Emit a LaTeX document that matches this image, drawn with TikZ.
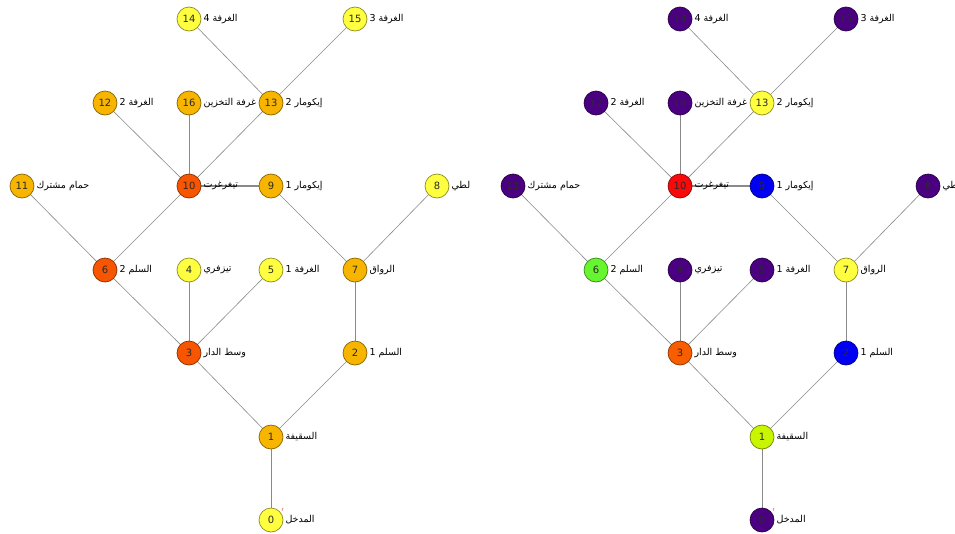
\documentclass[tikz,border=0pt]{standalone}
\usepackage{fontspec}
\setmainfont{DejaVu Sans}
\newfontfamily\arabicfont[Script=Arabic]{DejaVu Sans}
\TeXXeTstate=1
\usetikzlibrary{positioning,backgrounds}
\definecolor{ink}     {HTML}{2A2A2A}
\definecolor{linkgray}{HTML}{8A8A8A}
\definecolor{rootred} {HTML}{D03030}
\definecolor{cyel}    {HTML}{FFFF40}
\definecolor{camb}    {HTML}{F8B500}
\definecolor{cred}    {HTML}{F85500}
\definecolor{cpur}    {HTML}{4A0080}
\definecolor{clime}   {HTML}{C8F500}
\definecolor{cblue}   {HTML}{0000F2}
\definecolor{cgrn}    {HTML}{66F52E}
\definecolor{corg}    {HTML}{F85E00}
\definecolor{cred2}   {HTML}{F80A0A}
\tikzset{
  vertex/.style    ={circle, draw=#1!55!black, fill=#1, line width=0.7pt,
                     minimum size=24pt, inner sep=0pt,
                     font=\fontsize{10}{12}\selectfont, text=ink},
  roomlabel/.style ={inner sep=1pt, font=\fontsize{9.5}{11}\arabicfont, text=black},
  link/.style      ={draw=linkgray, line width=0.6pt},
  mainlink/.style  ={draw=linkgray, line width=1.6pt},
  rootmark/.style  ={text=rootred, font=\fontsize{5}{6}\selectfont, inner sep=0pt},
}
\begin{document}
\begin{tikzpicture}[x=1pt,y=-1pt]
    \useasboundingbox (0,0) rectangle (955,533);
    \clip (0,0) rectangle (955,533);
    % left graph L, right graph R (same layout, shifted)
    \foreach \n/\px/\py/\lc/\rc/\room in {
      0/271/520/cyel/cpur/المدخل,
      1/271/437/camb/clime/السقيفة,
      2/355/353/camb/cblue/السلم 1,
      3/189/353/cred/corg/وسط الدار,
      4/189/270/cyel/cpur/تيزفري,
      5/271/270/cyel/cpur/الغرفة 1,
      6/105/270/cred/cgrn/السلم 2,
      7/355/270/camb/cyel/الرواق,
      8/437/186/cyel/cpur/لطي,
      9/271/186/camb/cblue/إيكومار 1,
      10/189/186/cred/cred2/تيغرغرت,
      11/22/186/camb/cpur/حمام مشترك,
      12/105/103/camb/cpur/الغرفة 2,
      13/271/103/camb/cyel/إيكومار 2,
      14/189/19/cyel/cpur/الغرفة 4,
      15/355/19/cyel/cpur/الغرفة 3,
      16/189/103/camb/cpur/غرفة التخزين}
    {
      \node[vertex=\lc] (L\n) at (\px,\py) {\n};
      \node[roomlabel, right=1pt of L\n] (Lt\n) {\beginR\room\endR};
      \node[vertex=\rc] (R\n) at (\px+491,\py) {\n};
      \node[roomlabel, right=1pt of R\n] (Rt\n) {\beginR\room\endR};
    }
    \node[rootmark] (Lroot) at ([xshift=3pt,yshift=1pt]L0.north east) {r};
    \node[rootmark] (Rroot) at ([xshift=3pt,yshift=1pt]R0.north east) {r};
    \begin{scope}[on background layer]
      \fill[white] (0,0) rectangle (955,533);
      \foreach \a/\b in {0/1,1/2,1/3,2/7,3/4,3/5,3/6,6/11,6/10,7/9,7/8,
                         10/12,10/16,10/13,13/14,13/15}
      {
        \draw[link] (L\a) -- (L\b);
        \draw[link] (R\a) -- (R\b);
      }
      \draw[mainlink] (L10) -- (L9);
      \draw[mainlink] (R10) -- (R9);
    \end{scope}
  \end{tikzpicture}
\end{document}
